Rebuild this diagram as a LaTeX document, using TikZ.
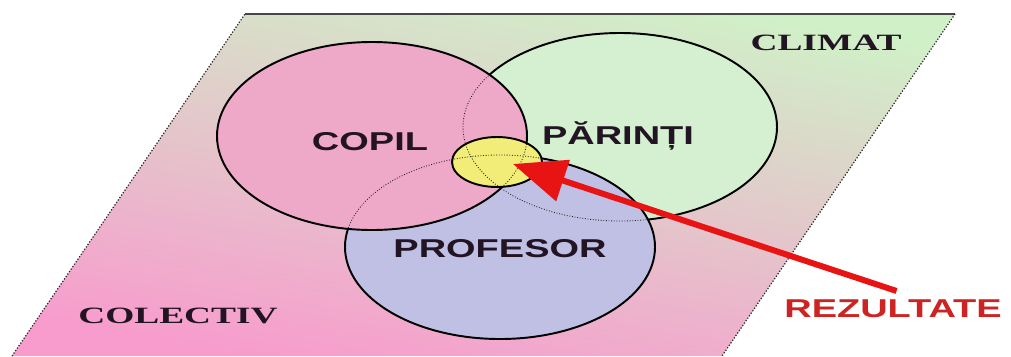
\documentclass[tikz,border=0pt]{standalone}
\usepackage{fontspec}
\setmainfont{Liberation Serif}
\newfontfamily\vennsans[FakeStretch=1.47]{Liberation Sans}
\newfontfamily\vennserif[FakeStretch=1.6]{Liberation Serif}
\usetikzlibrary{arrows.meta, positioning}

\begin{document}
\begin{tikzpicture}[x=0.02cm, y=-0.02cm,
  rim/.style={draw=black, line width=1.1pt},
  seam/.style={draw=black!85, line width=0.5pt, densely dotted},
  sanslabel/.style={font=\vennsans\bfseries\fontsize{14.7}{16}\selectfont, text=inkdark, inner sep=0pt, anchor=base},
  seriflabel/.style={font=\vennserif\bfseries\fontsize{13.3}{15}\selectfont, text=inkdark, inner sep=0pt, anchor=base}]
  \definecolor{planegreen}{RGB}{208,240,200}
  \definecolor{planemid}{RGB}{238,214,208}
  \definecolor{planepink}{RGB}{248,155,205}
  \definecolor{copilc}{RGB}{238,168,200}
  \definecolor{parintic}{RGB}{212,240,208}
  \definecolor{profc}{RGB}{192,192,228}
  \definecolor{rezc}{RGB}{242,236,120}
  \definecolor{arrowred}{RGB}{232,20,20}
  \definecolor{labelred}{RGB}{205,35,35}
  \definecolor{inkdark}{RGB}{35,20,35}
  \useasboundingbox (0,0) rectangle (1011,356);
  % --- plan (climat / colectiv) ---
  \begin{scope}
    \clip (0,0) rectangle (1011,356);
    \shade[top color=planegreen, middle color=planemid, bottom color=planepink, shading angle=-10]
      (245,14) -- (955,14) -- (722,356) -- (12,356) -- cycle;
  \end{scope}
  \draw[black!72, line width=0.7pt] (245,14) -- (955,14);
  \draw[black!85, line width=0.7pt, densely dotted] (12,356) -- (245,14);
  \draw[black!85, line width=0.7pt, densely dotted] (955,14) -- (722,356);
  % --- cercuri: parinti, profesor, copil ---
  \path[rim, fill=parintic] (620,127) ellipse [x radius=157, y radius=94];
  \path[rim, fill=profc] (500,247) ellipse [x radius=155, y radius=92];
  \path[rim, fill=copilc] (372,136) ellipse [x radius=155, y radius=94];
  % contururi acoperite
  \begin{scope}
    \clip (372,136) ellipse [x radius=155, y radius=94];
    \draw[seam] (620,127) ellipse [x radius=157, y radius=94];
    \draw[seam] (500,247) ellipse [x radius=155, y radius=92];
  \end{scope}
  \begin{scope}
    \clip (500,247) ellipse [x radius=155, y radius=92];
    \draw[seam] (620,127) ellipse [x radius=157, y radius=94];
  \end{scope}
  % --- rezultate (intersectia) ---
  \fill[rezc] (497,162) ellipse [x radius=45, y radius=25];
  \begin{scope}
    \clip (497,162) ellipse [x radius=45, y radius=25];
    \draw[seam] (620,127) ellipse [x radius=157, y radius=94];
    \draw[seam] (500,247) ellipse [x radius=155, y radius=92];
    \draw[seam] (372,136) ellipse [x radius=155, y radius=94];
  \end{scope}
  \draw[rim] (497,162) ellipse [x radius=45, y radius=25];
  % --- etichete ---
  \node[sanslabel] (copil) at (370,150) {COPIL};
  \node[sanslabel] (parinti) at (618,144) {PĂRINȚI};
  \node[sanslabel] (profesor) at (500,257) {PROFESOR};
  \node[seriflabel] (colectiv) at (178,323) {COLECTIV};
  \node[seriflabel] (climat) at (826,50) {CLIMAT};
  \node[sanslabel, text=labelred] (rezultate) at (893,317) {REZULTATE};
  % --- sageata ---
  \coordinate (hit) at (513,164);
  \draw[-{Triangle[length=30pt, width=24pt]}, arrowred, line width=3.4pt]
    ([xshift=2pt, yshift=4.5pt]rezultate.north) -- (hit);
\end{tikzpicture}
\end{document}
